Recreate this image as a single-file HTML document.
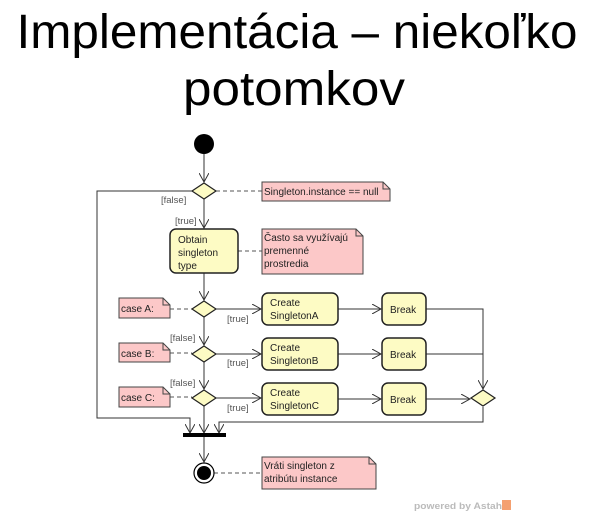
<!DOCTYPE html>
<html><head><meta charset="utf-8"><style>
html,body{margin:0;padding:0;background:#fff;}
svg{display:block;font-family:"Liberation Sans",sans-serif;}
</style></head><body>
<svg width="598" height="523" viewBox="0 0 598 523" xmlns="http://www.w3.org/2000/svg">
<defs>
<marker id="ar" markerWidth="10" markerHeight="10" refX="9" refY="5" orient="auto" markerUnits="userSpaceOnUse">
<path d="M0,0 L9,5 L0,10" fill="none" stroke="#333" stroke-width="1"/>
</marker>
</defs>
<text x="297" y="48" font-size="48" text-anchor="middle" textLength="561" lengthAdjust="spacingAndGlyphs">Implementácia – niekoľko</text>
<text x="294" y="105" font-size="48" text-anchor="middle" textLength="222" lengthAdjust="spacingAndGlyphs">potomkov</text>

<g stroke="#333" stroke-width="1" fill="none">
<line x1="204" y1="154" x2="204" y2="182" marker-end="url(#ar)"/>
<line x1="204" y1="199" x2="204" y2="228" marker-end="url(#ar)"/>
<line x1="204" y1="273" x2="204" y2="300" marker-end="url(#ar)"/>
<line x1="204" y1="317" x2="204" y2="345" marker-end="url(#ar)"/>
<line x1="204" y1="362" x2="204" y2="389" marker-end="url(#ar)"/>
<line x1="204" y1="406" x2="204" y2="433" marker-end="url(#ar)"/>
<line x1="204" y1="437" x2="204" y2="462" marker-end="url(#ar)"/>
<polyline points="192,191 97,191 97,418 190,418 190,433" marker-end="url(#ar)"/>
<line x1="216" y1="309" x2="261" y2="309" marker-end="url(#ar)"/>
<line x1="216" y1="354" x2="261" y2="354" marker-end="url(#ar)"/>
<line x1="216" y1="398" x2="261" y2="398" marker-end="url(#ar)"/>
<line x1="338" y1="309" x2="381" y2="309" marker-end="url(#ar)"/>
<line x1="338" y1="354" x2="381" y2="354" marker-end="url(#ar)"/>
<line x1="338" y1="399" x2="381" y2="399" marker-end="url(#ar)"/>
<polyline points="426,309 483,309 483,389" marker-end="url(#ar)"/>
<line x1="426" y1="354" x2="483" y2="354"/>
<line x1="426" y1="399" x2="470" y2="399" marker-end="url(#ar)"/>
<polyline points="483,407 483,422 219,422 219,433" marker-end="url(#ar)"/>
</g>
<g stroke="#555" stroke-width="1" stroke-dasharray="4,3">
<line x1="216" y1="191" x2="262" y2="191"/>
<line x1="238" y1="251" x2="262" y2="251"/>
<line x1="170" y1="309" x2="192" y2="309"/>
<line x1="170" y1="353" x2="192" y2="353"/>
<line x1="170" y1="397" x2="192" y2="397"/>
<line x1="214" y1="473" x2="262" y2="473"/>
</g>
<circle cx="204" cy="144" r="10" fill="#000"/>
<g fill="#fdfbc4" stroke="#222" stroke-width="1.2">
<polygon points="204,183 216,191 204,199 192,191"/>
<polygon points="204,301 216,309 204,317 192,309"/>
<polygon points="204,346 216,354 204,362 192,354"/>
<polygon points="204,390 216,398 204,406 192,398"/>
<polygon points="483,390 495,398 483,406 471,398"/>
</g>
<g fill="#fdfbc4" stroke="#222" stroke-width="1.5">
<rect x="170" y="229" width="68" height="44" rx="6"/>
<rect x="262" y="293" width="76" height="32" rx="6"/>
<rect x="262" y="338" width="76" height="32" rx="6"/>
<rect x="262" y="383" width="76" height="32" rx="6"/>
<rect x="382" y="293" width="44" height="32" rx="6"/>
<rect x="382" y="338" width="44" height="32" rx="6"/>
<rect x="382" y="383" width="44" height="32" rx="6"/>
</g>
<rect x="183" y="433" width="43" height="4" fill="#000"/>
<circle cx="204" cy="473" r="10" fill="#fff" stroke="#000" stroke-width="1.2"/>
<circle cx="204" cy="473" r="7" fill="#000"/>
<g fill="#fcc8c8" stroke="#444" stroke-width="1">
<path d="M262,182 H383 L390,189 V201 H262 Z"/>
<path d="M262,229 H356 L363,236 V274 H262 Z"/>
<path d="M119,298 H163 L170,305 V318 H119 Z"/>
<path d="M119,343 H163 L170,350 V362 H119 Z"/>
<path d="M119,387 H163 L170,394 V407 H119 Z"/>
<path d="M262,457 H369 L376,464 V489 H262 Z"/>
</g>
<g fill="none" stroke="#444">
<path d="M383,182 V189 H390"/><path d="M356,229 V236 H363"/>
<path d="M163,298 V305 H170"/><path d="M163,343 V350 H170"/><path d="M163,387 V394 H170"/>
<path d="M369,457 V464 H376"/>
</g>
<g font-size="10" fill="#222">
<text x="264" y="195">Singleton.instance == null</text>
<text x="264" y="241">Často sa využívajú</text>
<text x="264" y="254">premenné</text>
<text x="264" y="267">prostredia</text>
<text x="121" y="312">case A:</text>
<text x="121" y="357">case B:</text>
<text x="121" y="401">case C:</text>
<text x="264" y="469">Vráti singleton z</text>
<text x="264" y="482">atribútu instance</text>
<text x="178" y="243">Obtain</text>
<text x="178" y="256">singleton</text>
<text x="178" y="269">type</text>
<text x="270" y="306">Create</text><text x="270" y="319">SingletonA</text>
<text x="270" y="351">Create</text><text x="270" y="364">SingletonB</text>
<text x="270" y="396">Create</text><text x="270" y="409">SingletonC</text>
<text x="390" y="313">Break</text>
<text x="390" y="358">Break</text>
<text x="390" y="403">Break</text>
</g>
<g font-size="9.5" fill="#555">
<text x="161" y="203">[false]</text>
<text x="175" y="224">[true]</text>
<text x="227" y="322">[true]</text>
<text x="227" y="366">[true]</text>
<text x="227" y="411">[true]</text>
<text x="170" y="341">[false]</text>
<text x="170" y="386">[false]</text>
</g>
<text x="414" y="509" font-size="9" font-weight="bold" fill="#bbb" textLength="88" lengthAdjust="spacingAndGlyphs">powered by Astah</text>
<rect x="502" y="500" width="9" height="10" fill="#f4a070"/>
</svg>
</body></html>
